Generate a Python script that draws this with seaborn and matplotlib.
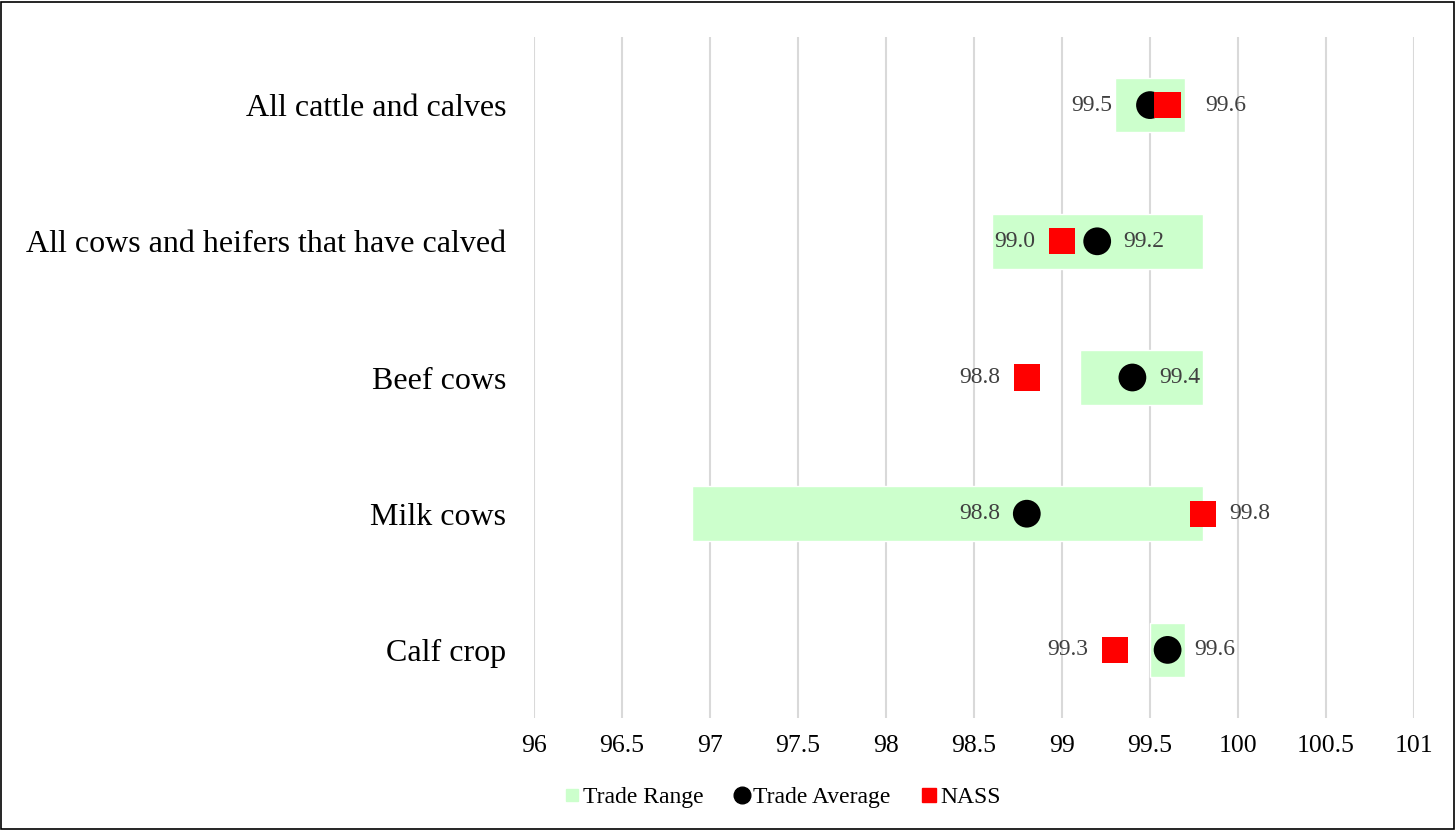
import pandas as pd
import matplotlib
matplotlib.use('Agg')
import matplotlib.pyplot as plt
import seaborn as sns
from matplotlib.lines import Line2D
from matplotlib.patches import Rectangle

categories = ['All cattle and calves', 'All cows and heifers that have calved',
              'Beef cows', 'Milk cows', 'Calf crop']
range_low = [99.3, 98.6, 99.1, 96.9, 99.5]
range_high = [99.7, 99.8, 99.8, 99.8, 99.7]
trade_avg = [99.5, 99.2, 99.4, 98.8, 99.6]
nass = [99.6, 99.0, 98.8, 99.8, 99.3]
xticks = [96, 96.5, 97, 97.5, 98, 98.5, 99, 99.5, 100, 100.5, 101]
xtick_labels = ['96', '96.5', '97', '97.5', '98', '98.5', '99', '99.5', '100', '100.5', '101']

df = pd.DataFrame({'cat': categories, 'low': range_low, 'high': range_high,
                   'avg': trade_avg, 'nass': nass})
df['pos'] = range(len(df))

sns.set_style('white')
plt.rcParams['font.family'] = ['Liberation Serif', 'DejaVu Serif']

fig = plt.figure(figsize=(14.56, 8.30), dpi=100)
ax = fig.add_axes([534/1456, 112/830, 880/1456, 681/830])

green = '#CCFFCC'
ax.barh(df['pos'], df['high'] - df['low'], left=df['low'], height=0.4,
        color=green, zorder=2)

sns.scatterplot(data=df, x='avg', y='pos', marker='o', s=400, color='black',
                edgecolor='none', ax=ax, zorder=3, legend=False)
sns.scatterplot(data=df, x='nass', y='pos', marker='s', s=360, color='red',
                edgecolor='none', ax=ax, zorder=4, legend=False)

# value labels: lower value on the left, higher on the right
for i, r in df.iterrows():
    # push labels further out when the two markers overlap
    off = 27 if abs(r['avg'] - r['nass']) < 0.15 else 19
    for v in (r['avg'], r['nass']):
        other = r['nass'] if v == r['avg'] else r['avg']
        if v <= other:
            ax.annotate(f'{v:.1f}', (v, r['pos']), xytext=(-off, 0),
                        textcoords='offset points', ha='right', va='center',
                        fontsize=17, color='#404040', zorder=5)
        else:
            ax.annotate(f'{v:.1f}', (v, r['pos']), xytext=(off, 0),
                        textcoords='offset points', ha='left', va='center',
                        fontsize=17, color='#404040', zorder=5)

ax.set_xlim(96, 101)
ax.set_ylim(4.5, -0.5)
ax.set_xticks(xticks)
ax.set_xticklabels(xtick_labels, fontsize=18.5, color='black')
ax.set_yticks(df['pos'])
ax.set_yticklabels(categories, fontsize=23, color='black')
ax.tick_params(axis='x', length=0, pad=12)
ax.tick_params(axis='y', length=0, pad=20)
ax.set_xlabel('')
ax.set_ylabel('')
ax.grid(axis='x', color='#D9D9D9', linewidth=1.5, zorder=0)
ax.grid(axis='y', visible=False)
ax.set_axisbelow(True)
for s in ax.spines.values():
    s.set_visible(False)

handles = [
    Line2D([], [], marker='s', linestyle='none', color=green, markersize=9),
    Line2D([], [], marker='o', linestyle='none', color='black', markersize=12),
    Line2D([], [], marker='s', linestyle='none', color='red', markersize=10),
]
leg = fig.legend(handles, ['Trade Range', 'Trade Average', 'NASS'], loc='center',
                 bbox_to_anchor=(781/1456, 1 - 797/830), ncol=3, frameon=False,
                 fontsize=17, handletextpad=0.0, columnspacing=1.2, handlelength=0.9)
for t in leg.get_texts():
    t.set_color('black')

fig.add_artist(Rectangle((0.0005, 0.001), 0.998, 0.997, transform=fig.transFigure,
                         fill=False, edgecolor='black', linewidth=1.2))

fig.savefig('out.png', dpi=100)
